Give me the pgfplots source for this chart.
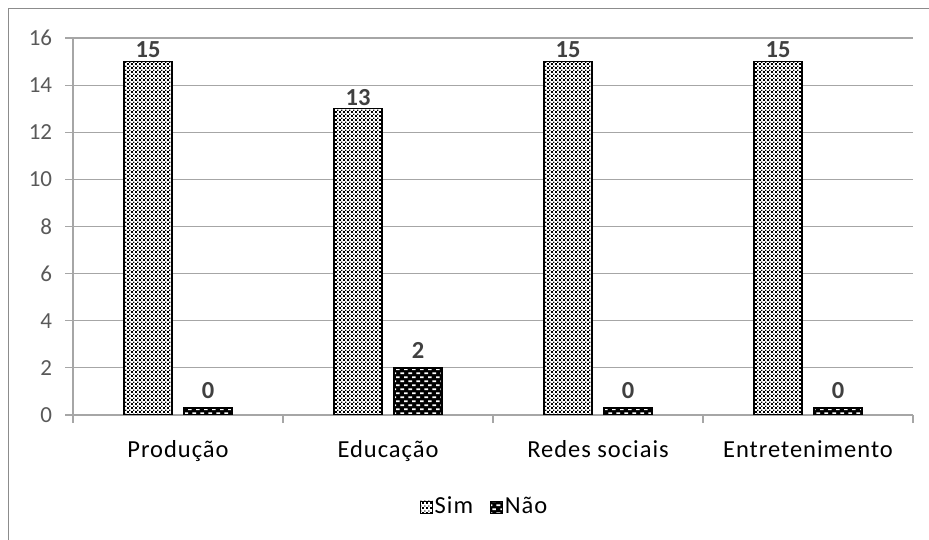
\documentclass[border=0pt]{standalone}
\usepackage{pgfplots}
\pgfplotsset{compat=1.18}
\usepackage{fontspec}
\setmainfont{Carlito}
\newfontfamily\catfont{Carlito}[LetterSpace=4]
\usetikzlibrary{patterns}
\definecolor{tickgray}{HTML}{595959}
\definecolor{valgray}{HTML}{404040}
\definecolor{gridgray}{HTML}{A6A6A6}
\definecolor{framegray}{HTML}{8C8C8C}
\pgfdeclarepatternformonly{simdots}{\pgfpointorigin}{\pgfpoint{4.4pt}{4.4pt}}{\pgfpoint{4.4pt}{4.4pt}}{%
  \pgfpathrectangle{\pgfpoint{0.2pt}{0.2pt}}{\pgfpoint{1.8pt}{1.8pt}}\pgfusepath{fill}%
  \pgfpathrectangle{\pgfpoint{2.5pt}{2.5pt}}{\pgfpoint{1.3pt}{1.3pt}}\pgfusepath{fill}}
\pgfdeclarepatternformonly{naodash}{\pgfpointorigin}{\pgfpoint{8pt}{8.4pt}}{\pgfpoint{8pt}{8.4pt}}{%
  \pgfpathrectangle{\pgfpoint{0.5pt}{1pt}}{\pgfpoint{4.2pt}{1.9pt}}\pgfusepath{fill}%
  \pgfpathrectangle{\pgfpoint{4.5pt}{5.2pt}}{\pgfpoint{4.2pt}{1.9pt}}\pgfusepath{fill}}
\begin{document}
\fontsize{23}{27}\selectfont
\begin{tikzpicture}
\draw[framegray, line width=1pt] (8pt,-20pt) -- (8pt,531.5pt) -- (960pt,531.5pt);
\begin{axis}[
  at={(73pt,125pt)}, anchor=south west,
  scale only axis, width=840pt, height=377pt,
  xmin=-0.5, xmax=3.5, ymin=0, ymax=16,
  axis x line*=bottom, axis y line*=left,
  axis line style={gridgray, line width=1.2pt},
  ytick={0,2,...,16},
  ymajorgrids, grid style={gridgray, line width=1.2pt},
  tick style={gridgray, line width=1.2pt},
  tick align=outside,
  major tick length=8pt,
  xtick={0,1,2,3},
  xticklabels={Produção, Educação, Redes sociais, Entretenimento},
  x tick style={draw=none},
  minor xtick={-0.5,0.5,1.5,2.5,3.5},
  minor x tick style={draw=gridgray, line width=1.2pt},
  minor tick length=8pt,
  xticklabel style={font=\catfont\fontsize{24.5}{28}\selectfont, text=black, yshift=-9.5pt},
  yticklabel style={font=\fontsize{23}{27}\selectfont, text=tickgray, xshift=-5pt},
  /pgf/number format/assume math mode=true,
  ybar, bar width=48pt,
  point meta=explicit,
  nodes near coords={\pgfmathprintnumber{\pgfplotspointmeta}},
  every node near coord/.append style={font=\bfseries\fontsize{24.5}{28}\selectfont, text=valgray},
  legend style={at={(0.49,-0.244)}, anchor=center, draw=none, fill=none,
    font=\catfont\fontsize{24.5}{28}\selectfont, legend columns=2,
    /tikz/every even column/.append style={column sep=15pt}},
  legend image code/.code={\draw[#1, line width=0.8pt] (0pt,-6pt) rectangle (12pt,6pt);},
]
\addplot[bar shift=-30pt, draw=black, line width=1.5pt, fill=white,
  postaction={pattern=simdots, pattern color=black},
  every node near coord/.append style={yshift=-5pt}]
  coordinates {(0,15) [15] (1,13) [13] (2,15) [15] (3,15) [15]};
\addplot[bar shift=30pt, draw=black, line width=1.5pt, fill=black,
  postaction={pattern=naodash, pattern color=white},
  every node near coord/.append style={yshift=1pt}]
  coordinates {(0,0.3) [0] (1,2) [2] (2,0.3) [0] (3,0.3) [0]};
\legend{Sim, Não}
\end{axis}
\pgfresetboundingbox
\path[use as bounding box] (0,0) rectangle (929pt,540pt);
\end{tikzpicture}
\end{document}
